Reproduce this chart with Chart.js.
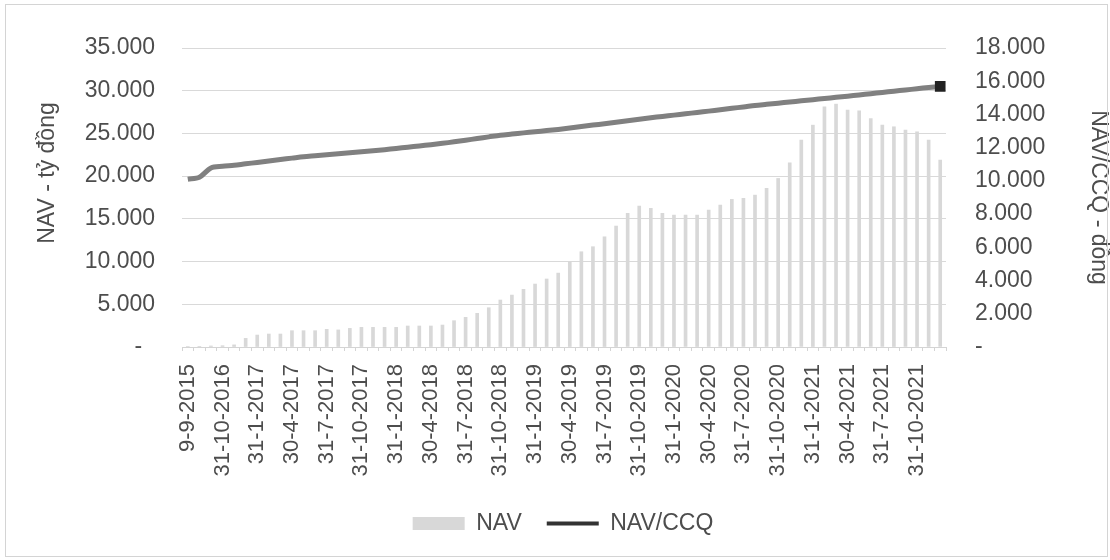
<!DOCTYPE html>
<html>
<head>
<meta charset="utf-8">
<script src="https://cdn.jsdelivr.net/npm/chart.js@4.4.1/dist/chart.umd.min.js"></script>
<style>
  html, body { margin: 0; padding: 0; background: #ffffff; }
  #wrap { position: relative; width: 1110px; height: 560px; }
  #frame { position: absolute; left: 5px; top: 4px; width: 1101px; height: 551px;
           border: 1px solid #d4d4d4; pointer-events: none; }
  canvas { display: block; }
</style>
</head>
<body>
<div id="wrap">
  <canvas id="c" width="1110" height="560"></canvas>
  <div id="frame"></div>
</div>
<script>
// Reporting dates (month ends after the launch date)
const dates = [
  "9-9-2015", "31-8-2016", "30-9-2016",
  "31-10-2016", "30-11-2016", "31-12-2016",
  "31-1-2017", "28-2-2017", "31-3-2017", "30-4-2017", "31-5-2017", "30-6-2017",
  "31-7-2017", "31-8-2017", "30-9-2017", "31-10-2017", "30-11-2017", "31-12-2017",
  "31-1-2018", "28-2-2018", "31-3-2018", "30-4-2018", "31-5-2018", "30-6-2018",
  "31-7-2018", "31-8-2018", "30-9-2018", "31-10-2018", "30-11-2018", "31-12-2018",
  "31-1-2019", "28-2-2019", "31-3-2019", "30-4-2019", "31-5-2019", "30-6-2019",
  "31-7-2019", "31-8-2019", "30-9-2019", "31-10-2019", "30-11-2019", "31-12-2019",
  "31-1-2020", "29-2-2020", "31-3-2020", "30-4-2020", "31-5-2020", "30-6-2020",
  "31-7-2020", "31-8-2020", "30-9-2020", "31-10-2020", "30-11-2020", "31-12-2020",
  "31-1-2021", "28-2-2021", "31-3-2021", "30-4-2021", "31-5-2021", "30-6-2021",
  "31-7-2021", "31-8-2021", "30-9-2021", "31-10-2021", "30-11-2021", "31-12-2021"
];

// Net asset value, billion VND
const navValues = [
  50, 80, 120, 150, 250, 1010,
  1400, 1520, 1520, 1910, 1910, 1910,
  2070, 2000, 2180, 2300, 2300, 2300,
  2300, 2460, 2460, 2460, 2570, 3080,
  3470, 3940, 4600, 5500, 6080, 6750,
  7370, 7960, 8650, 9980, 11150, 11740,
  12900, 14160, 15640, 16500, 16220, 15640,
  15440, 15440, 15440, 16030, 16610, 17280,
  17390, 17780, 18560, 19730, 21570, 24220,
  25970, 28120, 28430, 27730, 27650, 26750,
  25970, 25780, 25390, 25190, 24220, 21880
];

// NAV per fund certificate, VND
const navPerUnit = [
  10100, 10220, 10780, 10880, 10940, 11030,
  11110, 11200, 11290, 11370, 11450, 11510,
  11570, 11630, 11690, 11750, 11810, 11880,
  11950, 12030, 12100, 12180, 12260, 12350,
  12450, 12550, 12650, 12750, 12820, 12890,
  12960, 13030, 13100, 13180, 13270, 13360,
  13440, 13530, 13620, 13710, 13800, 13880,
  13960, 14040, 14120, 14200, 14280, 14370,
  14450, 14540, 14610, 14680, 14750, 14820,
  14890, 14960, 15030, 15100, 15170, 15250,
  15320, 15400, 15470, 15550, 15620, 15690
];

const leftTicks = { max: 35000, step: 5000 };
const rightTicks = { max: 18000, step: 2000 };

const FONT = "'Liberation Sans', Arial, sans-serif";
const TEXT = '#4d4d4d';

function fmt(v) {
  return Math.round(v).toString().replace(/\B(?=(\d{3})+(?!\d))/g, '.');
}

const lastIdx = navPerUnit.length - 1;

// Left axis title, set a little above the middle of the plot
const leftTitle = {
  id: 'leftTitle',
  afterDraw(chart) {
    const ctx = chart.ctx;
    ctx.save();
    ctx.translate(48, 173);
    ctx.rotate(-Math.PI / 2);
    ctx.font = '23px ' + FONT;
    ctx.fillStyle = TEXT;
    ctx.textAlign = 'center';
    ctx.textBaseline = 'middle';
    ctx.fillText('NAV - tỷ đồng', 0, 0);
    ctx.restore();
  }
};

new Chart(document.getElementById('c'), {
  data: {
    labels: dates,
    datasets: [
      {
        type: 'bar',
        label: 'NAV',
        data: navValues,
        yAxisID: 'yNav',
        backgroundColor: '#d8d8d8',
        barThickness: 3,
        order: 2
      },
      {
        type: 'line',
        label: 'NAV/CCQ',
        data: navPerUnit,
        yAxisID: 'yUnit',
        borderColor: '#808080',
        backgroundColor: '#808080',
        borderWidth: 5,
        tension: 0.3,
        pointRadius: navPerUnit.map((v, i) => i === lastIdx ? 4 : 0),
        pointStyle: 'rect',
        pointBackgroundColor: '#222222',
        pointBorderColor: '#222222',
        order: 1
      }
    ]
  },
  plugins: [leftTitle],
  options: {
    responsive: false,
    animation: false,
    layout: { padding: { top: 48, left: 16, right: 0, bottom: 15 } },
    plugins: {
      tooltip: { enabled: false },
      legend: {
        position: 'bottom',
        labels: {
          usePointStyle: true,
          pointStyleWidth: 52,
          boxHeight: 13,
          padding: 25,
          color: TEXT,
          font: { family: FONT, size: 23 },
          generateLabels(chart) {
            return chart.data.datasets.map((ds, i) => {
              const isLine = ds.type === 'line';
              return {
                text: ds.label,
                datasetIndex: i,
                fillStyle: isLine ? '#333333' : '#d8d8d8',
                strokeStyle: isLine ? '#333333' : '#d8d8d8',
                lineWidth: isLine ? 4 : 0,
                pointStyle: isLine ? 'line' : 'rect',
                fontColor: TEXT,
                hidden: false
              };
            });
          }
        }
      }
    },
    scales: {
      x: {
        offset: true,
        grid: { display: true, drawOnChartArea: false, drawTicks: true, tickLength: 4, color: '#d4d4d4' },
        border: { display: true, color: '#d4d4d4' },
        ticks: {
          autoSkip: false,
          minRotation: 90,
          maxRotation: 90,
          padding: 13,
          color: TEXT,
          font: { family: FONT, size: 22 },
          callback(value, index) { return index % 3 === 0 ? dates[index] : ''; }
        },
        afterFit(scale) { scale.height = 140; }
      },
      yNav: {
        type: 'linear',
        position: 'left',
        min: 0,
        max: leftTicks.max,
        grid: { color: '#d9d9d9', drawTicks: false },
        border: { display: false },
        ticks: {
          stepSize: leftTicks.step,
          padding: 27,
          color: TEXT,
          font: { family: FONT, size: 23 },
          callback(v) { return v === 0 ? '-  ' : fmt(v); }
        },
        afterFit(scale) { scale.width = 166; }
      },
      yUnit: {
        type: 'linear',
        position: 'right',
        min: 0,
        max: rightTicks.max,
        grid: { display: false, drawTicks: false },
        border: { display: false },
        ticks: {
          stepSize: rightTicks.step,
          padding: 29,
          color: TEXT,
          font: { family: FONT, size: 23 },
          callback(v) { return v === 0 ? '-' : fmt(v); }
        },
        title: {
          display: true,
          text: 'NAV/CCQ - đồng',
          color: TEXT,
          font: { family: FONT, size: 23, lineHeight: 1 },
          padding: { top: 0, bottom: 0 }
        },
        afterFit(scale) { scale.width = 164; }
      }
    }
  }
});
</script>
</body>
</html>
